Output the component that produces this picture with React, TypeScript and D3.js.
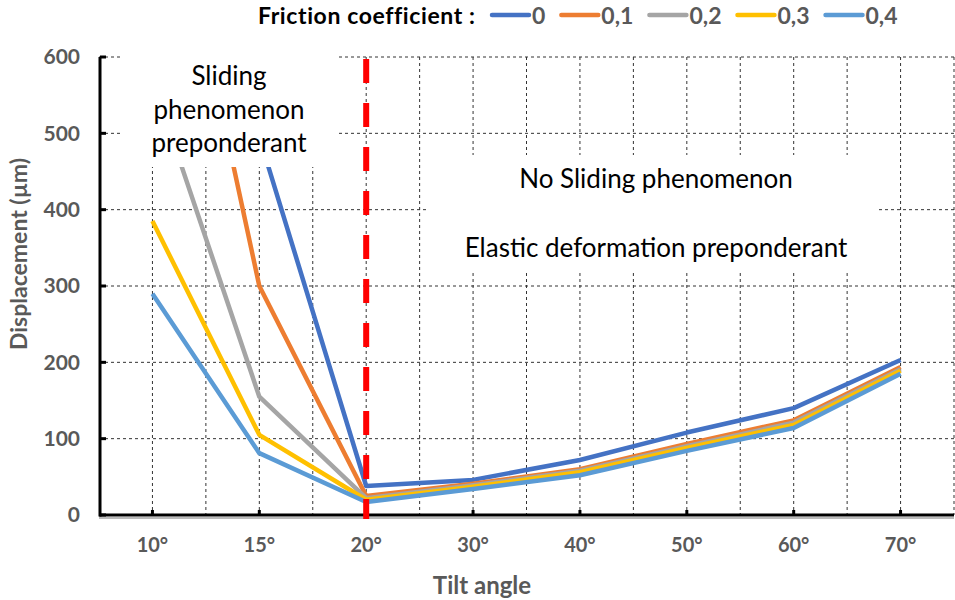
import React, { useEffect, useRef } from "react";
import * as d3 from "d3";

// chart values
const categories = ["10°", "15°", "20°", "30°", "40°", "50°", "60°", "70°"];
const frictionLabels = ["0", "0,1", "0,2", "0,3", "0,4"];
const mu0 = [800, 495, 38, 46, 72, 108, 140, 203];
const mu01 = [950, 300, 25, 41, 60, 93, 124, 194];
const mu02 = [570, 155, 22, 39, 58, 90, 121, 191];
const mu03 = [385, 105, 20, 37, 56, 88, 118, 189];
const mu04 = [290, 81, 17, 34, 52, 84, 114, 185];
const yTicks = [0, 100, 200, 300, 400, 500, 600];
const colors = ["#4472C4", "#ED7D31", "#A5A5A5", "#FFC000", "#5B9BD5"];
const limitAngle = "20°";

const FONT = "Lato, Carlito, Calibri, sans-serif";

const App = () => {
  const ref = useRef<SVGSVGElement>(null);

  useEffect(() => {
    const width = 955;
    const height = 600;
    const plot = { left: 99, right: 954, top: 57, bottom: 515 };

    const svg = d3.select(ref.current);
    svg.selectAll("*").remove();
    svg.attr("width", width).attr("height", height);

    svg.append("rect").attr("width", width).attr("height", height).attr("fill", "#fff");

    const x = d3.scaleBand().domain(categories).range([plot.left, plot.right]);
    const cx = (c: string) => (x(c) as number) + x.bandwidth() / 2;
    const y = d3.scaleLinear().domain([0, 600]).range([plot.bottom, plot.top]);

    // grid
    const grid = svg.append("g").attr("stroke", "#333").attr("stroke-width", 1).attr("stroke-dasharray", "3,3");
    yTicks.slice(1).forEach((t) => {
      grid.append("line").attr("x1", plot.left).attr("x2", plot.right).attr("y1", y(t)).attr("y2", y(t));
    });
    const vx: number[] = [];
    categories.forEach((c, i) => {
      if (i > 0) vx.push(x(c) as number);
      vx.push(cx(c));
    });
    vx.push(plot.right);
    vx.forEach((v) => {
      grid.append("line").attr("x1", v).attr("x2", v).attr("y1", plot.top).attr("y2", plot.bottom);
    });

    // series lines, clipped to the plot area
    svg
      .append("clipPath")
      .attr("id", "plotclip")
      .append("rect")
      .attr("x", plot.left)
      .attr("y", plot.top)
      .attr("width", plot.right - plot.left)
      .attr("height", plot.bottom - plot.top);

    const series = [mu0, mu01, mu02, mu03, mu04];
    const line = d3
      .line<number>()
      .x((_, i) => cx(categories[i]))
      .y((d) => y(d));

    const lines = svg.append("g").attr("clip-path", "url(#plotclip)");
    series.forEach((s, i) => {
      lines
        .append("path")
        .attr("d", line(s))
        .attr("fill", "none")
        .attr("stroke", colors[i])
        .attr("stroke-width", 4.5)
        .attr("stroke-linejoin", "round");
    });

    // annotation boxes (white backgrounds hide the lines behind them)
    svg.append("rect").attr("x", 120).attr("y", 45).attr("width", 218).attr("height", 122).attr("fill", "#fff");
    svg.append("rect").attr("x", 428).attr("y", 155).attr("width", 450).attr("height", 117).attr("fill", "#fff");

    const note = (tx: number, ty: number, txt: string) =>
      svg
        .append("text")
        .attr("x", tx)
        .attr("y", ty)
        .attr("text-anchor", "middle")
        .attr("font-family", FONT)
        .attr("font-size", 26)
        .attr("fill", "#000")
        .text(txt);
    note(229, 85, "Sliding");
    note(229, 119, "phenomenon");
    note(229, 152, "preponderant");
    note(656, 188, "No Sliding phenomenon");
    note(656, 257, "Elastic deformation preponderant");

    // axes
    svg.append("line").attr("x1", plot.left).attr("x2", plot.right).attr("y1", plot.bottom + 3).attr("y2", plot.bottom + 3).attr("stroke", "#bbb").attr("stroke-width", 2);
    svg.append("line").attr("x1", 100).attr("x2", 100).attr("y1", plot.top).attr("y2", plot.bottom + 1.5).attr("stroke", "#000").attr("stroke-width", 3);
    svg.append("line").attr("x1", plot.left).attr("x2", plot.right).attr("y1", plot.bottom).attr("y2", plot.bottom).attr("stroke", "#000").attr("stroke-width", 3);
    yTicks.forEach((t) => {
      svg.append("line").attr("x1", 100).attr("x2", 106).attr("y1", y(t)).attr("y2", y(t)).attr("stroke", "#000").attr("stroke-width", 3);
      svg
        .append("text")
        .attr("x", 80)
        .attr("y", y(t))
        .attr("dy", "0.35em")
        .attr("text-anchor", "end")
        .attr("font-family", FONT)
        .attr("font-weight", "bold")
        .attr("font-size", 21)
        .attr("fill", "#595959")
        .text(t);
    });
    categories.forEach((c) => {
      svg.append("line").attr("x1", cx(c)).attr("x2", cx(c)).attr("y1", plot.bottom).attr("y2", plot.bottom - 5).attr("stroke", "#000").attr("stroke-width", 3);
      svg
        .append("text")
        .attr("x", cx(c))
        .attr("y", 552)
        .attr("text-anchor", "middle")
        .attr("font-family", FONT)
        .attr("font-weight", "bold")
        .attr("font-size", 20)
        .attr("fill", "#595959")
        .text(c);
    });

    // red limit line
    svg
      .append("line")
      .attr("x1", cx(limitAngle))
      .attr("x2", cx(limitAngle))
      .attr("y1", 59)
      .attr("y2", 519)
      .attr("stroke", "#FF0000")
      .attr("stroke-width", 6)
      .attr("stroke-dasharray", "24,20");

    // axis titles
    svg
      .append("text")
      .attr("x", 482)
      .attr("y", 594)
      .attr("text-anchor", "middle")
      .attr("font-family", FONT)
      .attr("font-weight", "bold")
      .attr("font-size", 24)
      .attr("fill", "#595959")
      .text("Tilt angle");
    svg
      .append("text")
      .attr("transform", "translate(27,254) rotate(-90)")
      .attr("text-anchor", "middle")
      .attr("font-family", FONT)
      .attr("font-weight", "bold")
      .attr("font-size", 23)
      .attr("fill", "#595959")
      .text("Displacement (µm)");

    // legend
    svg
      .append("text")
      .attr("x", 258)
      .attr("y", 24)
      .attr("font-family", FONT)
      .attr("font-weight", "bold")
      .attr("font-size", 23)
      .attr("letter-spacing", 0.6)
      .attr("fill", "#000")
      .text("Friction coefficient :");
    let lx = 492;
    frictionLabels.forEach((lab, i) => {
      const g = svg.append("g");
      g.append("line")
        .attr("x1", lx)
        .attr("x2", lx + 37)
        .attr("y1", 15)
        .attr("y2", 15)
        .attr("stroke", colors[i])
        .attr("stroke-width", 4.5)
        .attr("stroke-linecap", "round");
      const t = g
        .append("text")
        .attr("x", lx + 40)
        .attr("y", 24)
        .attr("font-family", FONT)
        .attr("font-weight", "bold")
        .attr("font-size", 23)
        .attr("fill", "#595959")
        .text(lab);
      const w = (t.node() as SVGTextElement).getComputedTextLength();
      lx += 40 + w + 16;
    });
  }, []);

  return <svg ref={ref} style={{ position: "absolute", left: 0, top: 0 }}></svg>;
};

export default App;
